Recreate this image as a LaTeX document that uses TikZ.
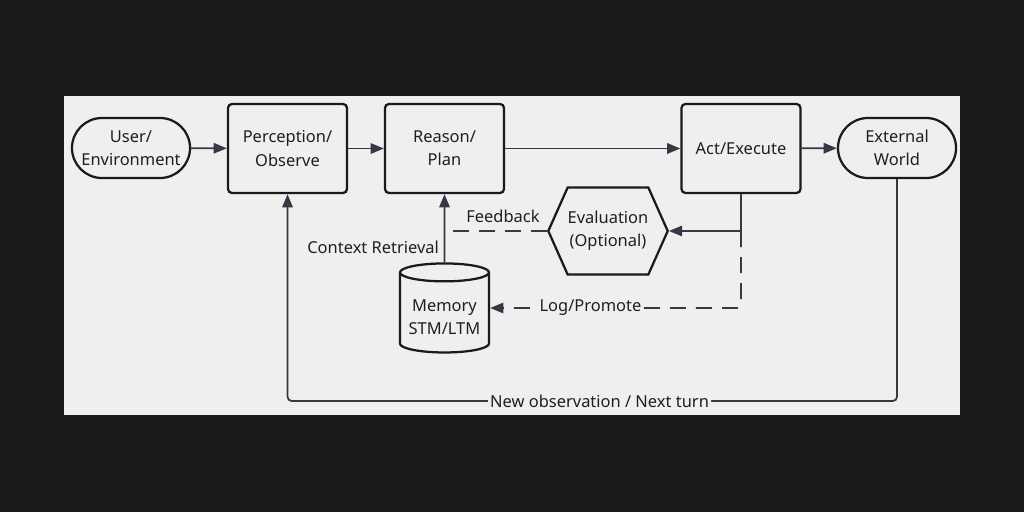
\documentclass[tikz,border=0pt]{standalone}
\usepackage{fontspec}
\setmainfont{Noto Sans}
\usetikzlibrary{arrows.meta,positioning,shapes.geometric,shapes.symbols}

\definecolor{backdrop}{HTML}{1B1B1B}
\definecolor{panel}{HTML}{EFEFEF}
\definecolor{edge}{HTML}{1A1A1A}
\definecolor{wire}{HTML}{343944}
\definecolor{ink}{HTML}{1F1F1F}

\tikzset{
  stage/.style={draw=edge,line width=1.6pt,rounded corners=0.1cm,
    minimum width=2.975cm,minimum height=2.225cm,align=center,text=ink},
  terminal/.style={draw=edge,line width=1.6pt,rounded corners=0.75cm,
    minimum width=2.95cm,minimum height=1.5cm,inner sep=0pt,align=center,text=ink},
  flow/.style={->,draw=wire,line width=1.25pt},
  soft/.style={dash pattern=on 4mm off 2.5mm},
  tag/.style={text=ink,fill=panel,inner sep=1.5pt},
}

\begin{document}
\begin{tikzpicture}[>={Triangle[length=3.3mm,width=2.6mm]},x=0.025cm,y=-0.025cm,
  font=\fontsize{11.7}{16.5}\selectfont]
\fill[backdrop] (0,0) rectangle (1024,512);
\fill[panel] (64,96) rectangle (960,415);

% main row
\node[terminal] (user)   at (131,148)   {User/\\Environment};
\node[stage]    (percep) at (287.5,148.5) {Perception/\\Observe};
\node[stage]    (reason) at (444.5,148.5) {Reason/\\Plan};
\node[stage]    (act)    at (741,148.5) {Act/Execute};
\node[terminal] (world)  at (897,148)   {External\\World};

% lower row
\node[draw=edge,line width=1.6pt,signal,signal to=west and east,signal pointer angle=132,
  minimum width=2.9cm,minimum height=2.175cm,inner sep=0pt,align=center,text=ink]
  (eval) at (608,231) {Evaluation\\(Optional)};
\node[draw=edge,line width=1.6pt,cylinder,shape border rotate=90,aspect=0.25,
  minimum width=2.225cm,minimum height=2.225cm,inner sep=0pt,align=center,text=ink]
  (memory) at (444.5,313) {\mbox{}\\[-2pt]Memory\\STM/LTM};

\coordinate (split)  at (act.south |- eval.east);
\coordinate (fbjoin) at (reason.south |- eval.west);
\coordinate (memlog) at ([yshift=0.125cm]memory.east);
\coordinate (loop)   at (world.south |- 0,401);

\draw[flow] (user)   -- (percep);
\draw[flow] (percep) -- (reason);
\draw[flow] (reason) -- (act);
\draw[flow] (act)    -- (world);

\draw[flow] (act.south) |- (eval.east);
\draw[flow,soft,rounded corners=3pt] (split) |- (memlog)
  node[tag,pos=0.8] {Log/Promote};
\draw[draw=wire,line width=1.25pt,soft] (eval.west) -- (fbjoin)
  node[pos=0.43,above=2pt,text=ink] {Feedback};
\draw[flow] (memory.north) -- (reason.south)
  node[pos=0.22,left,text=ink] {Context Retrieval};

\draw[flow,rounded corners=3pt] (world.south) -- (loop) -| node[tag,pos=0.244] {New observation / Next turn} (percep.south);
\end{tikzpicture}
\end{document}
